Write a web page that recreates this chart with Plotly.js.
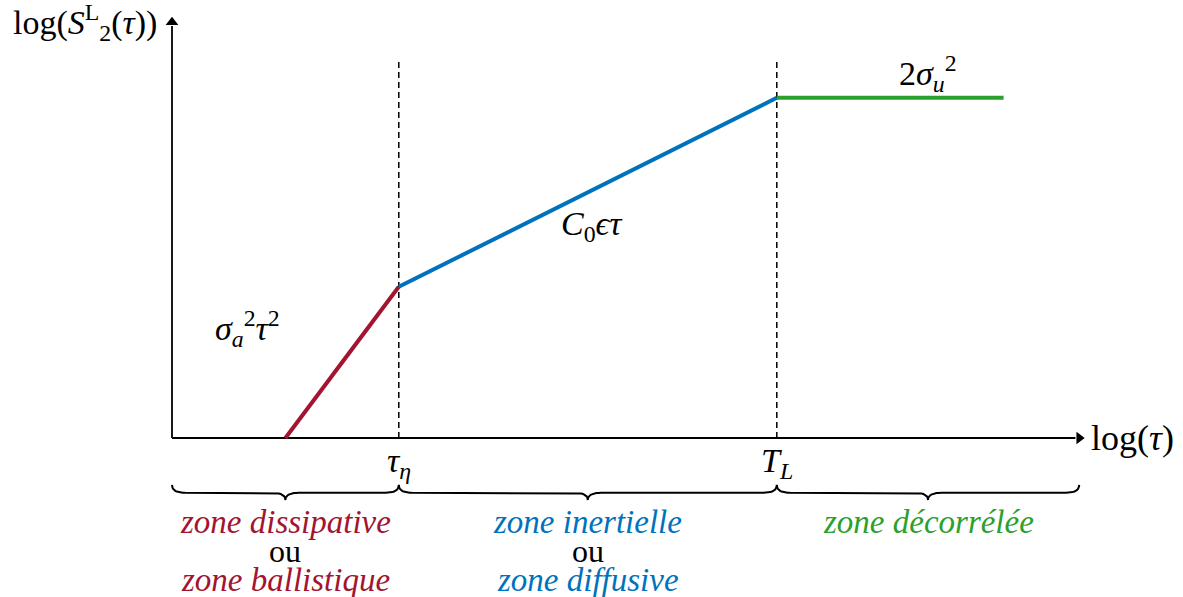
<!DOCTYPE html>
<html>
<head>
<meta charset="utf-8">
<script src="https://cdn.plot.ly/plotly-3.0.1.min.js"></script>
<style>
html,body{margin:0;padding:0;background:#fff;}
#chart{width:1183px;height:597px;}
svg text, svg tspan { font-family: "Liberation Serif" !important; }
</style>
</head>
<body>
<div id="chart"></div>
<script>
// Schematic values (log tau, log S2L) in the figure's own units
const tauRed = [3, 6];
const sRed = [0, 4];
const tauBlue = [6, 16];
const sBlue = [4, 9];
const tauGreen = [16, 22];
const sGreen = [9, 9];
const breakTaus = [6, 16];
const breakLabels = ['<i>τ<sub>η</sub></i>', '<i>T<sub>L</sub></i>'];
const dashTop = 10;
const axisEnd = [24, 11];
const zoneBounds = [[0, 6], [6, 16], [16, 24]];
const zoneLines = [
  ['<i>zone dissipative</i>', 'ou', '<i>zone ballistique</i>'],
  ['<i>zone inertielle</i>', 'ou', '<i>zone diffusive</i>'],
  ['<i>zone décorrélée</i>']
];
const red = '#A2142F', blue = '#0072BD', green = '#2CA02C';
const zoneColors = [red, blue, green];
const lawLabels = ['<i>σ</i><sub><i>a</i></sub><sup>2</sup><i>τ</i><sup>2</sup>', '<i>C</i><sub>0</sub><i>ϵτ</i>', '2<i>σ</i><sub><i>u</i></sub><sup>2</sup>'];
const lawPos = [[2.0, 2.9], [11.1, 5.6], [20.0, 9.65]];

const fontFam = 'Liberation Serif';
const traces = [];
// axes
traces.push({x: [0, axisEnd[0] - 0.1], y: [0, 0], mode: 'lines', line: {color: '#000', width: 1.8}, hoverinfo: 'skip'});
traces.push({x: [0, 0], y: [0, axisEnd[1] - 0.1], mode: 'lines', line: {color: '#000', width: 1.8}, hoverinfo: 'skip'});
// dashed break lines
breakTaus.forEach(t => traces.push({x: [t, t], y: [0, dashTop], mode: 'lines',
  line: {color: '#000', width: 1.5, dash: '6px,4px'}, hoverinfo: 'skip'}));
// curly braces under each zone (drawn from the zone bounds)
const y0 = -1.24, ym = -1.45, yt = -1.64, r = 0.35;
function quad(p0, p1, p2, n) {
  const pts = [];
  for (let k = 1; k <= n; k++) {
    const s = k / n;
    pts.push([(1 - s) * (1 - s) * p0[0] + 2 * (1 - s) * s * p1[0] + s * s * p2[0],
              (1 - s) * (1 - s) * p0[1] + 2 * (1 - s) * s * p1[1] + s * s * p2[1]]);
  }
  return pts;
}
zoneBounds.forEach(([a, b]) => {
  const m = (a + b) / 2;
  let pts = [[a, y0]];
  pts = pts.concat(quad([a, y0], [a, ym], [a + r, ym], 10));
  pts.push([m - r, ym]);
  pts = pts.concat(quad([m - r, ym], [m, ym], [m, yt], 10));
  pts = pts.concat(quad([m, yt], [m, ym], [m + r, ym], 10));
  pts.push([b - r, ym]);
  pts = pts.concat(quad([b - r, ym], [b, ym], [b, y0], 10));
  traces.push({x: pts.map(p => p[0]), y: pts.map(p => p[1]), mode: 'lines',
    line: {color: '#000', width: 2}, hoverinfo: 'skip'});
});
// regime curves
traces.push({x: tauRed, y: sRed, mode: 'lines', line: {color: red, width: 4}, hoverinfo: 'skip'});
traces.push({x: tauBlue, y: sBlue, mode: 'lines', line: {color: blue, width: 4}, hoverinfo: 'skip'});
traces.push({x: tauGreen, y: sGreen, mode: 'lines', line: {color: green, width: 4}, hoverinfo: 'skip'});
// arrowheads
traces.push({x: [axisEnd[0], 0], y: [0, axisEnd[1]], mode: 'markers', hoverinfo: 'skip',
  marker: {symbol: ['triangle-right', 'triangle-up'], size: 11, color: '#000'}});

const annotations = [];
annotations.push({x: axisEnd[0] + 0.25, y: 0, xref: 'x', yref: 'y', xanchor: 'left', yanchor: 'middle',
  text: 'log(<i>τ</i>)', showarrow: false, font: {family: fontFam, size: 36, color: '#000'}});
annotations.push({x: -2.3, y: 11.0, xref: 'x', yref: 'y', xanchor: 'center', yanchor: 'middle',
  text: 'log(<i>S</i><sup>L</sup><sub>2</sub>(<i>τ</i>))', showarrow: false, font: {family: fontFam, size: 34, color: '#000'}});
breakTaus.forEach((t, i) => annotations.push({x: t, y: -0.65, xref: 'x', yref: 'y', xanchor: 'center', yanchor: 'middle',
  text: breakLabels[i], showarrow: false, font: {family: fontFam, size: 34, color: '#000'}}));
lawLabels.forEach((t, i) => annotations.push({x: lawPos[i][0], y: lawPos[i][1], xref: 'x', yref: 'y', xanchor: 'center', yanchor: 'middle',
  text: t, showarrow: false, font: {family: fontFam, size: 34, color: '#000'}}));
const lineYs = [-2.22, -2.99, -3.76];
zoneBounds.forEach(([a, b], i) => {
  zoneLines[i].forEach((t, j) => annotations.push({x: (a + b) / 2, y: lineYs[j], xref: 'x', yref: 'y',
    xanchor: 'center', yanchor: 'middle', text: t, showarrow: false,
    font: {family: fontFam, size: t === 'ou' ? 32 : 33, color: t === 'ou' ? '#000' : zoneColors[i]}}));
});

const layout = {
  width: 1183, height: 597,
  margin: {l: 0, r: 0, t: 0, b: 0},
  showlegend: false,
  xaxis: {range: [-172 / 37.8, (1183 - 172) / 37.8], visible: false},
  yaxis: {range: [-159 / 37.8, 438 / 37.8], visible: false},
  annotations: annotations
};
Plotly.newPlot('chart', traces, layout, {displayModeBar: false});
</script>
</body>
</html>
